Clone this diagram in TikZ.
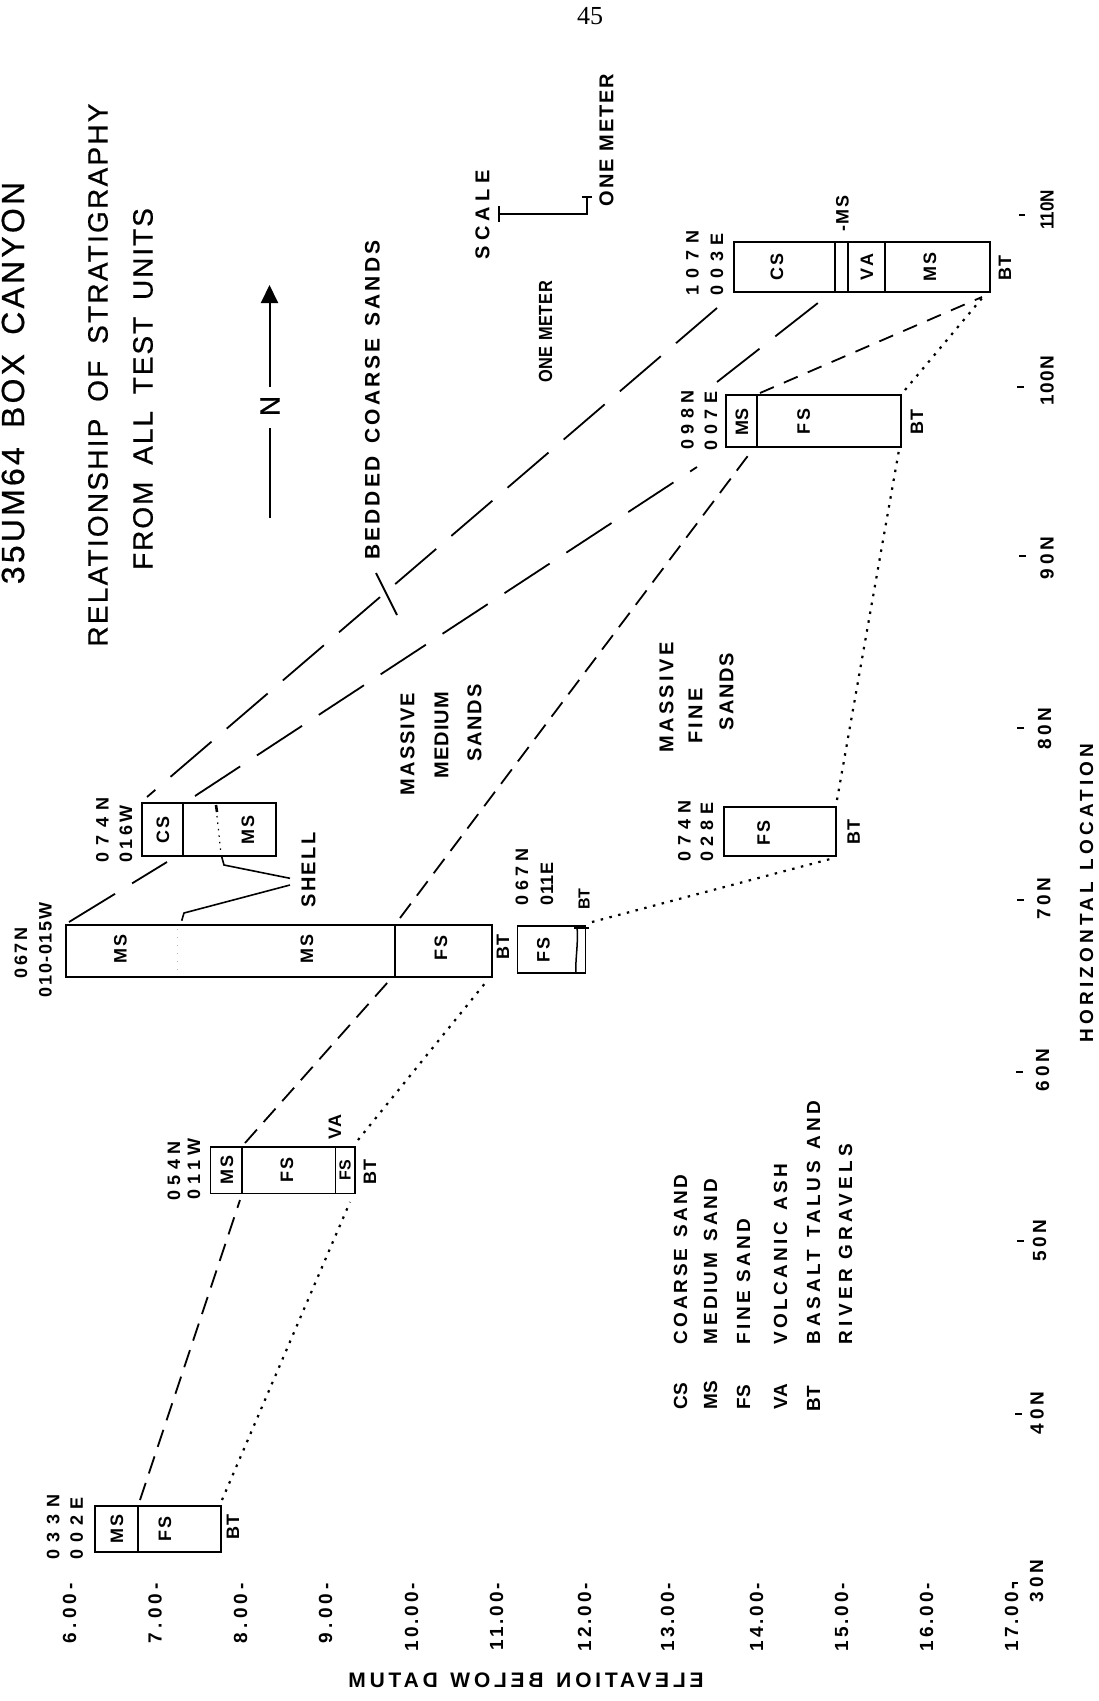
\documentclass[tikz,border=0pt]{standalone}
\usepackage{fontspec}
\usepackage{graphicx}
\usetikzlibrary{calc,arrows.meta}
\setmainfont{Liberation Sans}
\newfontfamily\tfont[FakeBold=0.6]{Liberation Sans}
\newfontfamily\lfont{Liberation Sans Bold}
\newfontfamily\pgfont{Liberation Serif}
\newcommand{\lsp}[2]{{\addfontfeature{LetterSpace=#1}#2}}
\newcommand{\fsz}[1]{\fontsize{#1}{#1}\selectfont}
\newcommand{\ws}{\hspace{0.6em}}
\newcommand{\dvd}[2]{\draw[line width=1.8pt] ($(#1.north west)+(#2,0)$) -- ($(#1.south west)+(#2,0)$);}
\tikzset{
  box/.style={draw, line width=1.8pt, inner sep=0pt, outer sep=0pt},
  rt/.style={rotate=90, inner sep=0pt, outer sep=0pt},
  ttl/.style={rt, font=\tfont\fsz{28}},
  lab/.style={rt, font=\lfont\fsz{20}},
  blab/.style={rt, font=\lfont\fsz{18}},
  unit/.style={rt, font=\lfont\fsz{18}},
  leg/.style={rt, font=\lfont\fsz{19}, anchor=west},
  ax/.style={rt, font=\lfont\fsz{19}},
  elev/.style={rt, font=\lfont\fsz{19}, anchor=east},
  ld/.style={line width=1.8pt, dash pattern=on 54pt off 20pt},
  md/.style={line width=1.8pt, dash pattern=on 18pt off 10pt},
  dt/.style={line width=2.2pt, dash pattern=on 2.5pt off 6.5pt},
  tick/.style={line width=2pt},
}
\begin{document}
\begin{tikzpicture}[x=1pt,y=-1pt]
\fill[white] (0,0) rectangle (1099,1701);
\useasboundingbox (0,0) rectangle (1099,1701);

% page number and titles
\node[font=\pgfont\fsz{26}, inner sep=0pt] (pg) at (590,16) {45};
\node[rt, font=\tfont\fsz{32}] (t1) at (13,383) {\lsp{10}{35UM64\ws BOX\ws CANYON}};
\node[ttl] (t2) at (98,375) {\lsp{8}{RELATIONSHIP\ws OF\ws STRATIGRAPHY}};
\node[ttl] (t3) at (143,389) {\lsp{7}{FROM\ws ALL\ws TEST\ws UNITS}};

% north arrow
\node[rt, font=\tfont\fsz{28}] (N) at (270,406) {N};
\coordinate (nbot) at (269.5,518);
\coordinate (nlo) at (269.5,428);
\coordinate (nhi) at (269.5,387);
\coordinate (ntip) at (269.5,285);
\draw[line width=2pt] (nbot) -- (nlo);
\draw[line width=2pt, -{Triangle[length=18pt,width=17pt]}] (nhi) -- (ntip);

% scale
\node[lab] (scl) at (482.5,215) {\lsp{27}{SCALE}};
\coordinate (sb1) at (499,214);
\coordinate (sb2) at (587,214);
\coordinate (sb3) at (587,197);
\draw[line width=2pt] (sb1) -- (sb2) -- (sb3);
\draw[line width=2pt] (499,206) -- (499,222);
\draw[line width=2pt] (582,197) -- (592,197);
\node[rt, font=\lfont\fsz{19}] (om1) at (545.5,332) {\scalebox{0.86}[1]{\lsp{4}{ONE METER}}};
\node[lab] (om2) at (606.5,140) {\lsp{10}{ONE METER}};

% labels in the field
\node[rt, font=\lfont\fsz{21}] (bcs) at (372.5,400) {\lsp{14}{BEDDED\ws COARSE\ws SANDS}};
\coordinate (bl1) at (376,573);
\coordinate (bl2) at (397,615);
\draw[line width=1.8pt] (bl1) -- (bl2);
\node[lab] (mm1) at (407.5,744) {\lsp{10}{MASSIVE}};
\node[lab] (mm2) at (441.5,735) {\lsp{5}{MEDIUM}};
\node[lab] (mm3) at (474.5,723) {\lsp{9}{SANDS}};
\node[lab] (mf1) at (666.5,697.5) {\lsp{17}{MASSIVE}};
\node[lab] (mf2) at (695.5,716) {\lsp{16}{FINE}};
\node[lab] (mf3) at (726.5,691.5) {\lsp{9}{SANDS}};
\node[lab] (shl) at (308.5,870) {\lsp{12}{SHELL}};

% ---------- boxes ----------
% A 033N 002E
\node[box, minimum width=126pt, minimum height=46pt] (A) at (158,1529) {};
\dvd{A}{43.3}
\node[blab] (Ams) at (117,1529) {\lsp{10}{MS}};
\node[blab] (Afs) at (165,1529) {\lsp{15}{FS}};
\node[blab] (Abt) at (233,1527) {\lsp{10}{BT}};
\node[unit] (Au1) at (53.3,1527) {\lsp{40}{033N}};
\node[unit] (Au2) at (76.7,1528) {\lsp{37}{002E}};

% B 054N 011W
\node[box, minimum width=144.5pt, minimum height=46.5pt] (B) at (282.75,1170.25) {};
\dvd{B}{31.5}
\dvd{B}{125}
\node[blab] (Bms) at (227,1170) {\lsp{10}{MS}};
\node[blab] (Bfs) at (287,1170) {\lsp{15}{FS}};
\node[rt, font=\lfont\fsz{16}] (Bfs2) at (345,1170) {FS};
\node[blab] (Bva) at (335,1127) {\lsp{10}{VA}};
\node[blab] (Bbt) at (370,1172) {\lsp{10}{BT}};
\node[unit] (Bu1) at (174,1171) {\lsp{30}{054N}};
\node[unit] (Bu2) at (194,1169) {\lsp{26}{011W}};

% C 067N 010-015W
\node[box, minimum width=426pt, minimum height=52pt] (C) at (279,951) {};
\dvd{C}{329}
\draw[gray!55, line width=1pt, dash pattern=on 1pt off 7pt] (177,929) -- (177,975);
\node[blab] (Cms1) at (120.5,949) {\lsp{10}{MS}};
\node[blab] (Cms2) at (307,949) {\lsp{10}{MS}};
\node[blab] (Cfs) at (441,948) {\lsp{15}{FS}};
\node[blab] (Cbt) at (503,947) {\lsp{10}{BT}};
\node[unit] (Cu1) at (21,953) {\lsp{13}{067N}};
\node[unit] (Cu2) at (45.5,950) {\lsp{9}{010-015W}};

% D 074N 016W
\node[box, minimum width=134.3pt, minimum height=52.4pt] (D) at (208.85,829.5) {};
\dvd{D}{41}
\draw[line width=2.6pt] (216,805) -- (217,812);
\draw[line width=1.2pt, dash pattern=on 1.5pt off 5pt] (217,816) -- (221,854);
\node[blab] (Dcs) at (163,830) {\lsp{15}{CS}};
\node[blab] (Dms) at (248,830) {\lsp{15}{MS}};
\node[unit] (Du1) at (102.5,830) {\lsp{40}{074N}};
\node[unit] (Du2) at (126,834) {\lsp{20}{016W}};

% E 067N 011E
\node[box, minimum width=68pt, minimum height=46.7pt] (E) at (551.4,949.65) {};
\draw[line width=1.5pt] (577,926.3) .. controls (578.5,945) and (575,960) .. (576,973);
\draw[line width=1.5pt] (574,928) -- (589,928);
\node[blab] (Efs) at (543.5,950) {\lsp{15}{FS}};
\node[rt, font=\lfont\fsz{16}] (Ebt) at (584,899) {BT};
\node[unit] (Eu1) at (522,877) {\lsp{26}{067N}};
\node[unit] (Eu2) at (547,884) {\lsp{4}{011E}};

% F 074N 028E
\node[box, minimum width=112.6pt, minimum height=48.4pt] (F) at (780,831.5) {};
\node[blab] (Ffs) at (763.7,833) {\lsp{15}{FS}};
\node[blab] (Fbt) at (853.7,832) {\lsp{10}{BT}};
\node[unit] (Fu1) at (684.5,831) {\lsp{35}{074N}};
\node[unit] (Fu2) at (707,832) {\lsp{33}{028E}};

% G 098N 007E
\node[box, minimum width=175.3pt, minimum height=51.7pt] (G) at (813.65,420.85) {};
\dvd{G}{31}
\node[blab] (Gms) at (742,421.7) {MS};
\node[blab] (Gfs) at (803.7,421.7) {\lsp{15}{FS}};
\node[blab] (Gbt) at (917,422) {\lsp{10}{BT}};
\node[unit] (Gu1) at (687.5,420) {\lsp{31}{098N}};
\node[unit] (Gu2) at (711,421) {\lsp{30}{007E}};

% H 107N 003E
\node[box, minimum width=256pt, minimum height=50pt] (H) at (861.7,267.3) {};
\dvd{H}{101.6}
\dvd{H}{114}
\dvd{H}{151.6}
\node[blab] (Hcs) at (777,267) {\lsp{15}{CS}};
\node[blab] (Hva) at (867,267) {\lsp{15}{VA}};
\node[blab] (Hms) at (930,267) {\lsp{15}{MS}};
\node[blab] (Hbt) at (1005,268) {\lsp{10}{BT}};
\node[blab] (Hms2) at (842.5,213.5) {\lsp{10}{-MS}};
\node[unit] (Hu1) at (692.5,263) {\lsp{40}{107N}};
\node[unit] (Hu2) at (717,264) {\lsp{37}{003E}};

% ---------- connectors ----------
\coordinate (l1a) at (69,922);   \coordinate (l1b) at (167,862);
\coordinate (l1c) at (147,797);  \coordinate (l1d) at (717,308);
\coordinate (l2a) at (195,796);  \coordinate (l2b) at (697,467);
\coordinate (l3a) at (717,382);  \coordinate (l3b) at (823,299);
\draw[ld] (l1a) -- (l1b);
\draw[ld] (l1d) -- (l1c);
\draw[ld] (l2a) -- (l2b);
\draw[ld] (l3a) -- (l3b);

\coordinate (l4a) at (140,1500); \coordinate (l4b) at (240,1200);
\coordinate (l5a) at (245,1143); \coordinate (l5b) at (388,982);
\coordinate (l6a) at (400,918);  \coordinate (l6b) at (750,453);
\coordinate (l7a) at (760,393);  \coordinate (l7b) at (982,297);
\draw[md] (l4a) -- (l4b);
\draw[md] (l5a) -- (l5b);
\draw[md] (l6a) -- (l6b);
\draw[md, dash pattern=on 15pt off 11pt] (l7a) -- (l7b);

\coordinate (d8a) at (222,1500);  \coordinate (d8b) at (350,1202);
\coordinate (d9a) at (358,1140);  \coordinate (d9b) at (486,982);
\coordinate (d10a) at (592,922);  \coordinate (d10b) at (834,858);
\coordinate (d11a) at (837,800);  \coordinate (d11b) at (899,450);
\coordinate (d12a) at (905,390);  \coordinate (d12b) at (983,297);
\draw[dt] (d8a) -- (d8b);
\draw[dt] (d9a) -- (d9b);
\draw[dt] (d10a) -- (d10b);
\draw[dt] (d11a) -- (d11b);
\draw[dt] (d12a) -- (d12b);

% shell leaders
\coordinate (s1) at (221.7,856.7);
\coordinate (s2) at (224,865);
\coordinate (s3) at (290,878.3);
\coordinate (s4) at (290,885);
\coordinate (s5) at (184,913);
\coordinate (s6) at (181.7,920.7);
\draw[line width=1.6pt] (s1) -- (s2) -- (s3);
\draw[line width=1.6pt] (s4) -- (s5) -- (s6);

% ---------- legend ----------
\node[leg] (kcs) at (680.5,1409) {CS};
\node[leg] (kms) at (710.5,1409) {MS};
\node[leg] (kfs) at (743.5,1409) {FS};
\node[leg] (kva) at (780.5,1409) {VA};
\node[leg] (kbt) at (813.5,1411) {BT};
\node[leg] (dcs) at (680.5,1344) {\lsp{15}{COARSE\ws SAND}};
\node[leg] (dms) at (710.5,1344) {\lsp{15}{MEDIUM\ws SAND}};
\node[leg] (dfs) at (743.5,1344) {\lsp{17}{FINE SAND}};
\node[leg] (dva) at (780.5,1344) {\lsp{17}{VOLCANIC\ws ASH}};
\node[leg] (dbt) at (813.5,1344) {\lsp{20}{BASALT\ws TALUS\ws AND}};
\node[leg] (dbt2) at (845.5,1344) {\lsp{22}{RIVER GRAVELS}};

% ---------- elevation axis ----------
\node[elev] (e6)  at (69.5,1583)  {\lsp{22}{6.00-}};
\node[elev] (e7)  at (155,1583)   {\lsp{22}{7.00-}};
\node[elev] (e8)  at (240.5,1583) {\lsp{22}{8.00-}};
\node[elev] (e9)  at (325.5,1583) {\lsp{22}{9.00-}};
\node[elev] (e10) at (411.5,1583) {\lsp{15}{10.00-}};
\node[elev] (e11) at (496.5,1583) {\lsp{15}{11.00-}};
\node[elev] (e12) at (584.5,1583) {\lsp{15}{12.00-}};
\node[elev] (e13) at (667.5,1583) {\lsp{15}{13.00-}};
\node[elev] (e14) at (756.5,1583) {\lsp{15}{14.00-}};
\node[elev] (e15) at (841.5,1583) {\lsp{15}{15.00-}};
\node[elev] (e16) at (926.5,1583) {\lsp{15}{16.00-}};
\node[elev] (e17) at (1011.5,1583) {\lsp{15}{17.00-}};
\coordinate (c17a) at (1011.5,1583);
\coordinate (c17b) at (1018,1583);
\draw[tick] (c17a) -- (c17b);
\node[font=\lfont\fsz{21}, inner sep=0pt] (ylab) at (526,1680.5)
  {\scalebox{-1}[1]{\lsp{18}{ELEVATION\ws BELOW\ws DATUM}}};

% ---------- horizontal location axis ----------
\node[ax] (h30)  at (1036.5,1581) {\lsp{20}{30N}};
\node[ax] (h40)  at (1037,1413)   {\lsp{20}{40N}};
\node[ax] (h50)  at (1039.5,1240.5) {\lsp{20}{50N}};
\node[ax] (h60)  at (1042.5,1070) {\lsp{20}{60N}};
\node[ax] (h70)  at (1043.7,898.5) {\lsp{20}{70N}};
\node[ax] (h80)  at (1044.5,728.5) {\lsp{20}{80N}};
\node[ax] (h90)  at (1047,558)    {\lsp{20}{90N}};
\node[ax] (h100) at (1047,381)    {\lsp{8}{100N}};
\node[ax] (h110) at (1047,210)    {\scalebox{0.9}[1]{110N}};
\draw[tick] (1015,1414) -- (1022,1414);
\draw[tick] (1017,1240.7) -- (1024,1240.7);
\draw[tick] (1016,1071.7) -- (1023,1071.7);
\draw[tick] (1017,900) -- (1024,900);
\draw[tick] (1017,728.3) -- (1024,728.3);
\draw[tick] (1019,555.8) -- (1026,555.8);
\draw[tick] (1017,386.7) -- (1024,386.7);
\draw[tick] (1019,215) -- (1025,215);
\node[rt, font=\lfont\fsz{19}] (hloc) at (1086.5,893) {\lsp{22}{HORIZONTAL\ws LOCATION}};

\end{tikzpicture}
\end{document}
